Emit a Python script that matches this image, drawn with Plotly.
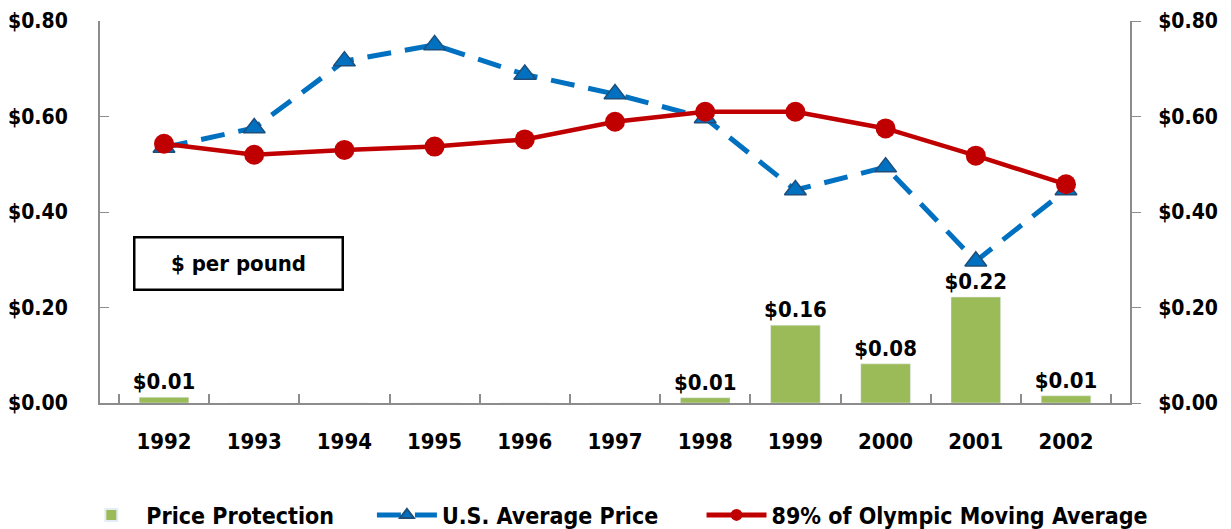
import plotly.graph_objects as go

years = ["1992", "1993", "1994", "1995", "1996", "1997", "1998", "1999", "2000", "2001", "2002"]
price_protection = [0.012, 0, 0, 0, 0, 0, 0.011, 0.163, 0.082, 0.222, 0.015]
protection_labels = ["$0.01", "", "", "", "", "", "$0.01", "$0.16", "$0.08", "$0.22", "$0.01"]
us_avg_price = [0.535, 0.576, 0.716, 0.750, 0.688, 0.647, 0.597, 0.446, 0.494, 0.297, 0.446]
olympic_89 = [0.543, 0.520, 0.530, 0.537, 0.552, 0.589, 0.610, 0.610, 0.575, 0.518, 0.458]
y_ticks = [0, 0.2, 0.4, 0.6, 0.8]

FONT = "DejaVu Sans Condensed, Liberation Sans Narrow, Arial Narrow, sans-serif"

fig = go.Figure()

fig.add_trace(go.Bar(
    x=years, y=price_protection, name="Price Protection", legend="legend",
    marker=dict(color="#9bbb59"), width=0.55,
    text=protection_labels, textposition="outside", cliponaxis=False,
    constraintext="none",
    textfont=dict(size=22, color="black", family=FONT, weight="bold"),
))

fig.add_trace(go.Scatter(
    x=years, y=us_avg_price, name="U.S. Average Price", mode="lines+markers",
    legend="legend2",
    line=dict(color="#0070c0", width=5, dash="24px,14px"),
    marker=dict(symbol="triangle-up", size=19, color="#0070c0",
                line=dict(color="#1f4e79", width=1.5)),
))

fig.add_trace(go.Scatter(
    x=years, y=olympic_89, name="89% of Olympic Moving Average", mode="lines+markers",
    legend="legend3",
    line=dict(color="#c00000", width=4.5),
    marker=dict(symbol="circle", size=20, color="#c00000"),
))

# dummy trace to show the right-hand axis
fig.add_trace(go.Scatter(x=years, y=olympic_89, yaxis="y2", mode="lines",
                         line=dict(width=0), showlegend=False, hoverinfo="skip"))

fig.add_annotation(
    x=0.032, y=0.366, xref="paper", yref="paper", xanchor="left", yanchor="middle",
    text="<b>$ per pound</b>", showarrow=False,
    font=dict(size=22, color="black", family=FONT),
    bordercolor="black", borderwidth=2.5, borderpad=8, bgcolor="white",
    width=190, height=34,
)

# one legend per series so each entry sits where it does in the original
leg = dict(orientation="h", y=-0.293, yanchor="middle", xanchor="left",
           font=dict(size=23, family=FONT, weight="bold"), itemwidth=60,
           itemsizing="constant", bgcolor="rgba(0,0,0,0)")

axis_font = dict(size=21, color="black", family=FONT, weight="bold")
fig.update_layout(
    width=1231, height=529,
    margin=dict(l=100, r=101, t=21, b=126, autoexpand=False),
    plot_bgcolor="white", paper_bgcolor="white",
    font=dict(family=FONT, size=22, color="black", weight="bold"),
    showlegend=True,
    legend=dict(leg, x=-0.023),
    legend2=dict(leg, x=0.264),
    legend3=dict(leg, x=0.584),
    xaxis=dict(
        type="category", showline=True, linecolor="#8c8c8c", linewidth=2,
        ticks="inside", tickson="boundaries", ticklen=9, tickcolor="#8c8c8c",
        tickwidth=1.5, tickfont=dict(axis_font, size=22), showgrid=False,
        ticklabelstandoff=18, automargin=False,
    ),
    yaxis=dict(
        range=[0, 0.8], tickvals=y_ticks, tickformat="$.2f", showgrid=False,
        zeroline=False, automargin=False,
        showline=True, linecolor="#8c8c8c", linewidth=2, ticks="inside", ticklen=9,
        tickcolor="#8c8c8c", tickfont=axis_font, ticklabelstandoff=26,
    ),
    yaxis2=dict(
        range=[0, 0.8], tickvals=y_ticks, tickformat="$.2f", overlaying="y", side="right",
        showgrid=False, zeroline=False, automargin=False,
        showline=True, linecolor="#8c8c8c", linewidth=2, ticks="outside", ticklen=9,
        tickcolor="#8c8c8c", tickfont=axis_font, ticklabelstandoff=13,
    ),
)

# drop the default page margin so the figure fills the window
fig.write_html("out.html", config={"displayModeBar": False},
               post_script="document.body.style.margin = '0';")
